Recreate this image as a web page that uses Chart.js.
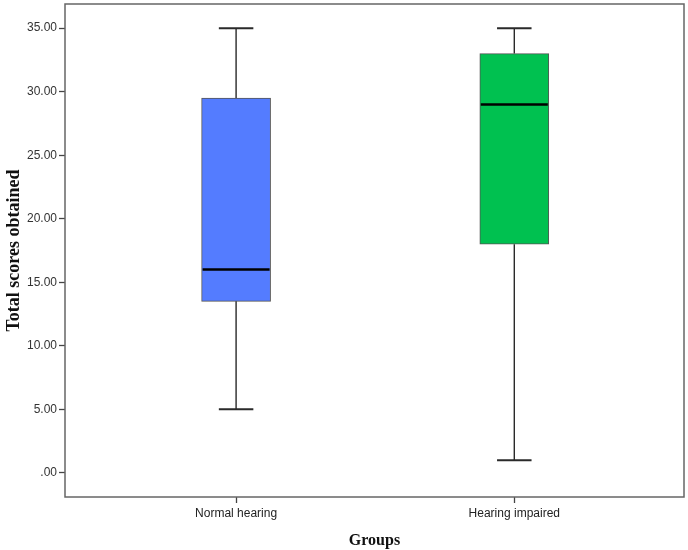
<!DOCTYPE html>
<html>
<head>
<meta charset="utf-8">
<script src="https://cdn.jsdelivr.net/npm/chart.js@4/dist/chart.umd.min.js"></script>
<style>
  body{margin:0;background:#fff}
</style>
</head>
<body>
<canvas id="myChart" width="688" height="550"></canvas>
<script>
// box plot summary per group
var groups=['Normal hearing','Hearing impaired']
var mins=[5,1]
var q1s=[13.5,18]
var medians=[16,29]
var q3s=[29.5,33]
var maxs=[35,35]
var colors=['#547cff','#00c150']
var yTicks=[0,5,10,15,20,25,30,35]

var boxes=[]
for(var i=0;i<groups.length;i++){
    boxes.push({x:i,y:[q1s[i],q3s[i]]})
}

// whiskers, caps and medians from the scales
var boxPlugin={
    id:'boxParts',
    afterDatasetsDraw:function(chart){
        var ctx=chart.ctx
        var xs=chart.scales.x, ys=chart.scales.y
        var meta=chart.getDatasetMeta(0)
        ctx.save()
        for(var i=0;i<groups.length;i++){
            var x=xs.getPixelForValue(i)
            var half=meta.data[i].width/2
            var cap=half/2
            ctx.strokeStyle='#2a2a2a'
            ctx.lineWidth=1.4
            ctx.beginPath()
            ctx.moveTo(x,ys.getPixelForValue(maxs[i]))
            ctx.lineTo(x,ys.getPixelForValue(q3s[i]))
            ctx.moveTo(x,ys.getPixelForValue(q1s[i]))
            ctx.lineTo(x,ys.getPixelForValue(mins[i]))
            ctx.stroke()
            ctx.lineWidth=2
            ctx.beginPath()
            ctx.moveTo(x-cap,ys.getPixelForValue(maxs[i]))
            ctx.lineTo(x+cap,ys.getPixelForValue(maxs[i]))
            ctx.moveTo(x-cap,ys.getPixelForValue(mins[i]))
            ctx.lineTo(x+cap,ys.getPixelForValue(mins[i]))
            ctx.stroke()
            ctx.strokeStyle='#000'
            ctx.lineWidth=2.5
            ctx.beginPath()
            ctx.moveTo(x-half+1,ys.getPixelForValue(medians[i]))
            ctx.lineTo(x+half-1,ys.getPixelForValue(medians[i]))
            ctx.stroke()
        }
        // frame
        var a=chart.chartArea
        ctx.strokeStyle='#666'
        ctx.lineWidth=1.5
        ctx.strokeRect(a.left,a.top,a.right-a.left,a.bottom-a.top)
        ctx.restore()
    }
}

var ctx=document.getElementById('myChart').getContext('2d')
var chart=new Chart(ctx,{
    type:'bar',
    data:{
        datasets:[{
            data:boxes,
            backgroundColor:colors,
            borderColor:'#555',
            borderWidth:1,
            borderSkipped:false,
            barThickness:69
        }]
    },
    plugins:[boxPlugin],
    options:{
        responsive:false,
        animation:false,
        layout:{padding:{top:4,right:4,left:0,bottom:0}},
        plugins:{legend:{display:false},tooltip:{enabled:false}},
        scales:{
            x:{
                type:'linear',
                offset:false,
                min:-0.615,
                max:1.61,
                afterBuildTicks:function(s){s.ticks=groups.map(function(g,i){return {value:i}})},
                afterFit:function(s){s.height=53;s.paddingLeft=0;s.paddingRight=0},
                ticks:{
                    callback:function(v){return groups[v]},
                    color:'#222',
                    font:{family:'Liberation Sans',size:12},
                    padding:3,
                    maxRotation:0
                },
                grid:{offset:false,drawOnChartArea:false,tickLength:6,tickColor:'#444',tickWidth:1.3},
                border:{display:false},
                title:{
                    display:true,
                    text:'Groups',
                    color:'#111',
                    font:{family:'Liberation Serif',size:16,weight:'bold'},
                    padding:{top:5,bottom:0}
                }
            },
            y:{
                min:-1.9,
                max:36.9,
                afterBuildTicks:function(s){s.ticks=yTicks.map(function(v){return {value:v}})},
                afterFit:function(s){s.width=65;s.paddingTop=0;s.paddingBottom=0},
                ticks:{
                    callback:function(v){return v===0?'.00':v.toFixed(2)},
                    color:'#333',
                    font:{family:'Liberation Sans',size:12},
                    padding:2
                },
                grid:{drawOnChartArea:false,tickLength:6,tickColor:'#444',tickWidth:1.3},
                border:{display:false},
                title:{
                    display:true,
                    text:'Total scores obtained',
                    color:'#111',
                    font:{family:'Liberation Serif',size:18,weight:'bold'},
                    padding:{top:4,bottom:0}
                }
            }
        }
    }
})
</script>
</body>
</html>
